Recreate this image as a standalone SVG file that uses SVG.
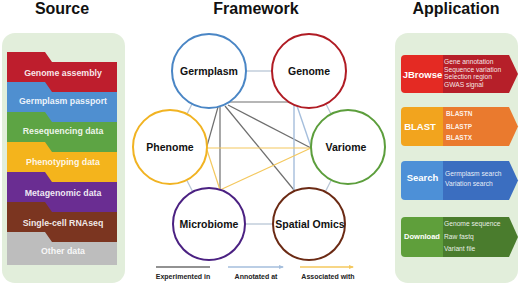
<svg xmlns="http://www.w3.org/2000/svg" width="520" height="287" viewBox="0 0 520 287">
<defs>
<style>
.title{font-family:"Liberation Sans",Arial,sans-serif;font-weight:bold;font-size:16px;fill:#111;text-anchor:middle}
.band{font-family:"Liberation Sans",Arial,sans-serif;font-weight:bold;font-size:8.8px;fill:#fff;fill-opacity:0.9;text-anchor:middle}
.node circle{fill:#fff;stroke-width:2}
.node text{font-family:"Liberation Sans",Arial,sans-serif;font-weight:bold;font-size:10.5px;fill:#111;text-anchor:middle}
.edge{stroke:#b9c6d6;stroke-width:1.3;fill:none}
.exp{stroke:#6e6e6e;stroke-width:1.2;fill:none}
.ann{stroke:#a5bedc;stroke-width:1.4;fill:none}
.ass{stroke:#f4c85e;stroke-width:1.2;fill:none}
.leg{font-family:"Liberation Sans",Arial,sans-serif;font-weight:bold;font-size:7px;fill:#222;text-anchor:middle}
.lab{font-family:"Liberation Sans",Arial,sans-serif;font-weight:bold;font-size:9.5px;fill:#fff;text-anchor:middle}
.item{font-family:"Liberation Sans",Arial,sans-serif;font-size:6.7px;fill:#fff;fill-opacity:0.9}
.panel{fill:#e2eedb}
</style>
<marker id="arrB" markerWidth="5" markerHeight="4" refX="4" refY="2" orient="auto" markerUnits="userSpaceOnUse"><path d="M0,0 L5,2 L0,4 Z" fill="#a5bedc"/></marker>
<marker id="arrY" markerWidth="5" markerHeight="4" refX="4" refY="2" orient="auto" markerUnits="userSpaceOnUse"><path d="M0,0 L5,2 L0,4 Z" fill="#f4c85e"/></marker>
</defs>
<rect width="520" height="287" fill="#fff"/>

<text class="title" x="62" y="14">Source</text>
<text class="title" x="256" y="14">Framework</text>
<text class="title" x="456" y="14">Application</text>

<!-- Source panel -->
<g id="source">
<rect class="panel" x="2" y="33" width="123" height="250" rx="13"/>
<polygon points="7,52 45,52 52,62 117,62 117,265 7,265" fill="#be1e2d"/>
<polygon points="7,82 45,82 52,92 117,92 117,265 7,265" fill="#4f8fd0"/>
<polygon points="7,112 45,112 52,122 117,122 117,265 7,265" fill="#5da444"/>
<polygon points="7,142 45,142 52,152 117,152 117,265 7,265" fill="#f4b41c"/>
<polygon points="7,172 45,172 52,182 117,182 117,265 7,265" fill="#6a2d92"/>
<polygon points="7,202 45,202 52,212 117,212 117,265 7,265" fill="#7b3520"/>
<polygon points="7,232 45,232 52,242 117,242 117,265 7,265" fill="#bdbdbd"/>
<text class="band" x="63" y="75.5">Genome assembly</text>
<text class="band" x="63" y="104">Germplasm passport</text>
<text class="band" x="63" y="134">Resequencing data</text>
<text class="band" x="63" y="164.5">Phenotyping data</text>
<text class="band" x="63" y="195.5">Metagenomic data</text>
<text class="band" x="63" y="225.5">Single-cell RNAseq</text>
<text class="band" x="63" y="253.5">Other data</text>
</g>

<!-- Connectors -->
<g id="connectors">
<line class="edge" x1="246" y1="71" x2="272" y2="71"/>
<line class="edge" x1="192" y1="104" x2="187" y2="114"/>
<line class="edge" x1="326" y1="104" x2="331" y2="114"/>
<line class="edge" x1="186.7" y1="180" x2="192.3" y2="191"/>
<line class="edge" x1="331.3" y1="180" x2="325.7" y2="191"/>
<line class="edge" x1="246" y1="224" x2="272" y2="224"/>
<line class="exp" x1="226" y1="102" x2="294" y2="102"/>
<line class="exp" x1="218" y1="107" x2="207" y2="146"/>
<line class="exp" x1="220" y1="107" x2="220" y2="190" stroke="#888"/>
<line class="exp" x1="225" y1="106" x2="294" y2="190"/>
<line class="exp" x1="228" y1="105" x2="311" y2="148"/>
<line class="ann" x1="294" y1="103" x2="294" y2="190"/>
<line class="ann" x1="296" y1="103" x2="311" y2="147"/>
<line class="ass" x1="207" y1="148" x2="311" y2="148"/>
<line class="ass" x1="311" y1="148" x2="220" y2="190"/>
<line class="ass" x1="207" y1="150" x2="220" y2="190"/>
</g>

<!-- Nodes -->
<g id="n-germplasm" class="node"><circle cx="209" cy="71" r="37" stroke="#4a86c5"/><text x="209" y="75">Germplasm</text></g>
<g id="n-genome" class="node"><circle cx="309" cy="71" r="37" stroke="#b01c24"/><text x="309" y="75">Genome</text></g>
<g id="n-phenome" class="node"><circle cx="170" cy="147" r="37" stroke="#f1b322"/><text x="170" y="151">Phenome</text></g>
<g id="n-variome" class="node"><circle cx="348" cy="147" r="37" stroke="#5c9e3c"/><text x="346" y="151">Variome</text></g>
<g id="n-microbiome" class="node"><circle cx="209" cy="224" r="36" stroke="#4b2182"/><text x="209" y="228">Microbiome</text></g>
<g id="n-spatial" class="node"><circle cx="309" cy="224" r="36" stroke="#6b2a14"/><text x="310" y="228">Spatial Omics</text></g>

<!-- Legend -->
<g id="legend">
<line x1="156" y1="267" x2="210" y2="267" stroke="#6e6e6e" stroke-width="1.3"/>
<line x1="228" y1="267" x2="283" y2="267" stroke="#a5bedc" stroke-width="1.3" marker-end="url(#arrB)"/>
<line x1="300" y1="267" x2="353" y2="267" stroke="#f4c85e" stroke-width="1.3" marker-end="url(#arrY)"/>
<text class="leg" x="183" y="279">Experimented in</text>
<text class="leg" x="256" y="279">Annotated at</text>
<text class="leg" x="328" y="279">Associated with</text>
</g>

<!-- Application panel -->
<g id="application">
<rect class="panel" x="395" y="33" width="123" height="250" rx="13"/>
</g>
<g id="c-jbrowse">
<path d="M443,55 H509 L518,74 L509,93 H443 Z" fill="#b61f29"/>
<path d="M405,55 H443 V93 H405 Q401,93 401,89 V59 Q401,55 405,55 Z" fill="#e42a23"/>
<text class="lab" x="422.5" y="78">JBrowse</text>
<text class="item" x="444" y="63.5">Gene annotation</text>
<text class="item" x="444" y="71.5">Sequence variation</text>
<text class="item" x="444" y="79">Selection region</text>
<text class="item" x="444" y="86.5">GWAS signal</text>
</g>
<g id="c-blast">
<path d="M443,107 H509 L518,126.5 L509,146 H443 Z" fill="#ea7a2e"/>
<path d="M405,107 H443 V146 H405 Q401,146 401,142 V111 Q401,107 405,107 Z" fill="#f2a41e"/>
<text class="lab" x="420" y="130">BLAST</text>
<text class="item" x="446" y="115.5" style="font-weight:bold;font-size:6.5px">BLASTN</text>
<text class="item" x="446" y="128.5" style="font-weight:bold;font-size:6.5px">BLASTP</text>
<text class="item" x="446" y="140" style="font-weight:bold;font-size:6.5px">BLASTX</text>
</g>
<g id="c-search">
<path d="M443,161 H509 L518,180.5 L509,200 H443 Z" fill="#3b6ec0"/>
<path d="M405,161 H443 V200 H405 Q401,200 401,196 V165 Q401,161 405,161 Z" fill="#4d90d7"/>
<text class="lab" x="422.5" y="180.5">Search</text>
<text class="item" x="445" y="175.5">Germplasm search</text>
<text class="item" x="445" y="185.5">Variation search</text>
</g>
<g id="c-download">
<path d="M443,217 H509 L518,237 L509,257 H443 Z" fill="#4a7c2d"/>
<path d="M405,217 H443 V257 H405 Q401,257 401,253 V221 Q401,217 405,217 Z" fill="#5f9f3b"/>
<text class="lab" x="422" y="239" style="font-size:7.5px">Download</text>
<text class="item" x="444" y="225.5">Genome sequence</text>
<text class="item" x="444" y="238.5">Raw fastq</text>
<text class="item" x="444" y="250.5">Variant file</text>
</g>
</svg>
